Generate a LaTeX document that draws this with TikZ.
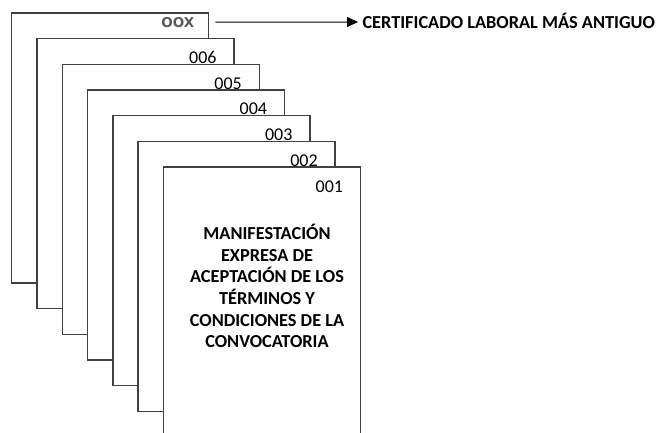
\documentclass[tikz,border=0pt]{standalone}
\usepackage{fontspec}
\setmainfont{Carlito}
\newfontfamily\oxfont{DejaVu Sans}
\usetikzlibrary{arrows.meta,positioning}

\begin{document}
\begin{tikzpicture}[x=1pt, y=-1pt, >={Triangle[length=11pt,width=10pt]},
    hoja/.style={rectangle, draw=black!75, line width=1.5pt, fill=white,
      minimum width=197pt, minimum height=270pt, anchor=north west, inner sep=0pt},
    numero/.style={anchor=east, inner sep=0pt, font=\fontsize{18}{20}\selectfont},
    codigo/.style={anchor=east, inner sep=0pt, text=black!65,
      font=\oxfont\bfseries\fontsize{13.5}{16}\selectfont},
    titulo/.style={font=\bfseries\fontsize{18.3}{21.7}\selectfont}]

    % marco de la figura
    \clip (0,0) rectangle (660,432);

    % desplazamiento entre hojas
    \def\dx{25.3}
    \def\dy{25.7}

    % hojas: de la ultima (atras) a la primera (delante)
    \foreach \i in {7,...,1} {
      \pgfmathsetmacro{\xpos}{162.7-(\i-1)*\dx}
      \pgfmathsetmacro{\ypos}{166.3-(\i-1)*\dy}
      \node[hoja] (p\i) at (\xpos,\ypos) {};
      \ifnum\i=7
        \node[codigo] (n\i) at ([xshift=-15pt,yshift=-10pt]p\i.north east) {OOX};
      \else
        \node[numero] (n\i) at ([xshift=-18pt,yshift=-20pt]p\i.north east) {00\i};
      \fi
    }

    % texto de la primera hoja
    \node[titulo, align=center] (texto) at (267,286)
      {MANIFESTACIÓN\\EXPRESA DE\\ACEPTACIÓN DE LOS\\TÉRMINOS Y\\CONDICIONES DE LA\\CONVOCATORIA};

    % flecha hacia el certificado
    \node[titulo, anchor=west, text height=12pt, text depth=0pt] (cert) at (359,22)
      {CERTIFICADO LABORAL MÁS ANTIGUO};
    \draw[->, line width=1pt, shorten <=21pt, shorten >=1pt] (n7.east) -- (cert.west);

\end{tikzpicture}
\end{document}
